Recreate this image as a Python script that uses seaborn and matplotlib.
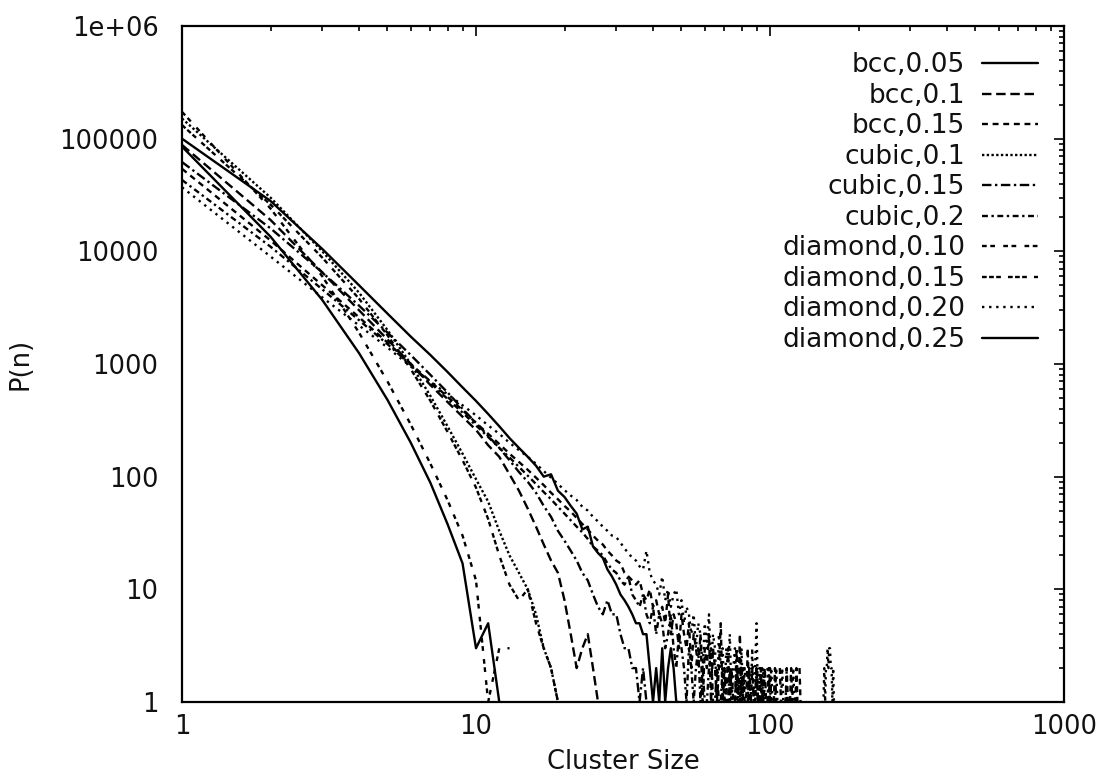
import numpy as np
import pandas as pd
import matplotlib
matplotlib.use("Agg")
import matplotlib.pyplot as plt
from matplotlib.lines import Line2D
from matplotlib.ticker import NullFormatter, LogLocator
import seaborn as sns

nan = np.nan

# Cluster-size distributions P(n), listed for n = 1, 2, 3, ...
# nan marks sizes with no clusters (undefined on the log axis).
bcc_005 = [85000, 13500, 3700, 1250, 480, 200, 88, 38, 17, 3, 5, 1]

bcc_010 = [88000, 19000, 6500, 3000, 1650, 1000, 650, 460, 340, 260,
           190, 150, 105, 75, 52, 36, 25, 18, 14, 8,
           4, 2, 3, 4, 2, 1]

bcc_015 = [54000, 12500, 5000, 2600, 1550, 1000, 700, 510, 390, 300,
           240, 195, 160, 135, 115, 98, 84, 72, 63, 55,
           49, 43, 38, 34, 30, 27, 25, 22, 20, 18,
           17, 14, 13, 12, 11, 12, 9, 8, 10, 7,
           8, 6, 7, 5, 9, 4, 6, 5, 3, 6,
           4, 3, 5, 2, 4, 3, 2, 4, 1, 3,
           2, 4, 1, 3, 2, 1, 2, 5, 1, 2,
           1, 3, 1, 2, 1, 1, 2, 1, 4, 1,
           2, 1, 1, 3, 1, 1, 2, 1, 1, 2,
           1, 1, 2, 1, 1, 2, 1, 1, 1, 2,
           1, nan, 1, 2, 1, 1, nan, 2, 1, 1,
           nan, 1, 1, 2, 1, nan, 1, 2, 1, nan,
           1, 1, 2, 1, nan, 2, 1]

cubic_010 = [151000, 30000, 10000, 4300, 2000, 1000, 520, 280, 160, 95,
             60, 33, 20, 14, 10, 6, 3, 2, 1]

cubic_015 = [62000, 16000, 6500, 3300, 1900, 1200, 800, 560, 400, 300,
             230, 180, 140, 110, 90, 72, 55, 44, 33, 27,
             22, 18, 14, 12, 9, 7, 6, 8, 6, 6,
             4, 3, 3, 2, 2, 1, 2, 1]

cubic_020 = [43000, 11000, 4600, 2450, 1500, 980, 680, 490, 370, 285,
             225, 180, 148, 122, 102, 86, 73, 63, 54, 47,
             41, 36, 32, 28, 24, 22, 20, 17, 15, 14,
             12, 11, 13, 9, 8, 7, 9, 6, 5, 7,
             4, 6, 5, 3, 4, 6, 3, 2, 4, 3,
             2, 1, 3, 2, 1, 2, 3, 1, 2, 1,
             1, 2, 3, 1, 1, 2, 1, 1, 2, 1,
             1, 1, 2, 1, nan, 1, 3, 1, 1, 2,
             1, nan, 1, 1, 2, 1, nan, 1, 1, 2,
             1, nan, 1, 2, 1, nan, nan, 1, 2, 1]

diamond_010 = [173000, 24000, 6000, 1900, 700, 290, 130, 62, 30, 12,
               1, 3, 3]

diamond_015 = [132000, 26000, 8800, 3800, 1800, 900, 470, 250, 140, 80,
               42, 20, 11, 8, 10, 5, 3, 2, 1]

diamond_020 = [37000, 9000, 3900, 2200, 1400, 950, 700, 540, 430, 350,
               285, 240, 200, 172, 150, 130, 112, 98, 86, 76,
               68, 62, 54, 50, 44, 40, 36, 33, 30, 29,
               26, 23, 21, 19, 18, 16, 15, 22, 14, 12,
               11, 9, 13, 8, 10, 7, 9, 10, 6, 8,
               5, 7, 6, 4, 6, 3, 5, 4, 2, 5,
               3, 6, 2, 4, 3, 1, 4, 2, 3, 1,
               3, 2, 4, 1, 2, 3, 1, 2, 1, 3,
               1, 2, 1, 1, 2, 1, 3, 1, 2, 5,
               1, 2, 1, 1, 2, 1, nan, 2, 1, 1,
               2, 1, nan, 1, 2, 1, nan, nan, 1, 2,
               1, nan, 1, 2, nan, 1, nan, nan, 1, 2,
               1, nan, nan, 1, nan, nan, nan, 1, nan, nan,
               nan, nan, nan, nan, nan, nan, nan, nan, nan, nan,
               nan, nan, nan, nan, nan, nan, nan, nan, nan, 1,
               1, 1, 2, 1, 2, 2, 3, 2, 3, 3,
               2, 2, 1, 2, 1, 1, 1]

diamond_025 = [100000, 28000, 10500, 5000, 2800, 1750, 1200, 850, 620, 470,
               360, 280, 220, 180, 150, 125, 100, 105, 75, 66,
               55, 47, 34, 36, 24, 21, 19, 15, 13, 11,
               9, 8, 7, 6, 5, 5, 4, 4, 2, 1,
               2, 1, 3, 1, 2, 3, 2, 1, 1]

series_names = ["bcc,0.05", "bcc,0.1", "bcc,0.15",
                "cubic,0.1", "cubic,0.15", "cubic,0.2",
                "diamond,0.10", "diamond,0.15", "diamond,0.20", "diamond,0.25"]
series_values = [bcc_005, bcc_010, bcc_015,
                 cubic_010, cubic_015, cubic_020,
                 diamond_010, diamond_015, diamond_020, diamond_025]

# gnuplot-like line types (in units of line width)
dash_styles = {
    "bcc,0.05": "",
    "bcc,0.1": (4, 2),
    "bcc,0.15": (2.5, 2),
    "cubic,0.1": (1, 1),
    "cubic,0.15": (4, 1.5, 1, 1.5),
    "cubic,0.2": (2.5, 1.5, 1, 1.5),
    "diamond,0.10": (2, 1.5, 2, 3.5),
    "diamond,0.15": (2, 1, 2, 1, 2, 3),
    "diamond,0.20": (1, 2),
    "diamond,0.25": "",
}

# Long-form table; each unbroken run of defined values becomes its own unit
rows = []
for name, vals in zip(series_names, series_values):
    seg = 0
    for n, p in enumerate(vals, start=1):
        if np.isnan(p):
            seg += 1
            continue
        rows.append({"n": n, "P": p, "series": name, "unit": f"{name}#{seg}"})
df = pd.DataFrame(rows)

sns.set_style("white")
plt.rcParams["font.family"] = ["DejaVu Sans"]

FS = 18.5
FS_LEG = 19
LW = 1.7
INK = "#000000"

fig = plt.figure(figsize=(11.05, 7.78), dpi=100)
ax = fig.add_axes([182 / 1105, 1 - 702 / 778, (1064 - 182) / 1105, (702 - 26) / 778])

sns.lineplot(data=df, x="n", y="P", hue="series", style="series", units="unit",
             estimator=None, sort=True, palette={s: INK for s in series_names},
             hue_order=series_names, style_order=series_names,
             dashes=dash_styles, linewidth=LW, legend=False, ax=ax)

ax.set_xscale("log")
ax.set_yscale("log")
ax.set_xlim(1, 1000)
ax.set_ylim(1, 1e6)

ax.set_xticks([1, 10, 100, 1000], labels=["1", "10", "100", "1000"])
ax.set_yticks([1, 10, 100, 1000, 1e4, 1e5, 1e6],
              labels=["1", "10", "100", "1000", "10000", "100000", "1e+06"])
ax.xaxis.set_minor_locator(LogLocator(base=10, subs=np.arange(2, 10)))
ax.yaxis.set_minor_locator(LogLocator(base=10, subs=np.arange(2, 10)))
ax.xaxis.set_minor_formatter(NullFormatter())
ax.yaxis.set_minor_formatter(NullFormatter())

ax.tick_params(which="both", direction="in", top=True, right=True,
               color=INK, width=1.2, labelsize=FS, labelcolor="#111111")
ax.tick_params(which="major", length=7.5)
ax.tick_params(which="minor", length=3.8)
ax.tick_params(axis="y", which="major", pad=17)
ax.tick_params(axis="x", which="major", pad=9)

for sp in ax.spines.values():
    sp.set_linewidth(1.6)
    sp.set_color(INK)

ax.set_xlabel("Cluster Size", fontsize=FS, color="#111111", labelpad=6)
ax.set_ylabel("P(n)", fontsize=FS, color="#111111", labelpad=19)

handles = [Line2D([], [], color=INK, linewidth=LW,
                  linestyle="-" if dash_styles[s] == "" else (0, dash_styles[s]))
           for s in series_names]
ax.legend(handles, series_names, loc="upper right", frameon=False,
          markerfirst=False, fontsize=FS_LEG, handlelength=2.1, handletextpad=0.65,
          labelspacing=0.17, borderaxespad=0.5, borderpad=0.5,
          labelcolor="#111111")

fig.savefig("out.png", dpi=100, facecolor="white")
